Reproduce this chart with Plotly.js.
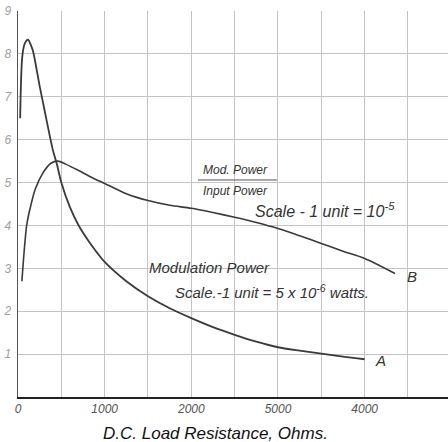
<!DOCTYPE html>
<html>
<head>
<meta charset="utf-8">
<script src="https://cdn.plot.ly/plotly-3.0.1.min.js"></script>
<style>html,body{margin:0;padding:0;background:#fff;}#chart{width:448px;height:442px;}</style>
</head>
<body>
<div id="chart"></div>
<script>
// Curve A: Modulation Power (1 unit = 5x10^-6 W)
const resistanceA = [25, 50, 80, 115, 150, 175, 250, 300, 350, 400, 450, 500, 600, 700, 800, 900, 1000, 1250, 1500, 1750, 2000, 2250, 2500, 2750, 3000, 3250, 3500, 3750, 4000];
const modPowerA   = [6.5, 7.95, 8.25, 8.33, 8.2, 8.05, 7.25, 6.75, 6.25, 5.78, 5.42, 5.0, 4.42, 4.0, 3.68, 3.4, 3.15, 2.7, 2.35, 2.07, 1.84, 1.63, 1.45, 1.29, 1.16, 1.08, 1.01, 0.94, 0.88];
// Curve B: Mod. Power / Input Power (1 unit = 10^-5)
const resistanceB = [45, 100, 140, 200, 290, 380, 460, 550, 700, 850, 1000, 1250, 1500, 1750, 2000, 2250, 2500, 2750, 3000, 3250, 3500, 3750, 4000, 4350];
const ratioB      = [2.7, 4.0, 4.4, 4.85, 5.23, 5.45, 5.5, 5.43, 5.28, 5.12, 4.98, 4.74, 4.58, 4.47, 4.40, 4.30, 4.19, 4.07, 3.93, 3.76, 3.58, 3.40, 3.23, 2.88];

const xTickVals = [0, 1000, 2000, 3000, 4000];
const xTickText = ['0', '1000', '2000', '5000', '4000'];
const yTickVals = [1, 2, 3, 4, 5, 6, 7, 8, 9];
const yTickText = ['1', '2', '3', '4', '5', '6', '7', '8', '9'];

const FONT = 'Liberation Sans, DejaVu Sans, sans-serif';
const ink = '#3a3a3a';

const traces = [
  {x: resistanceA, y: modPowerA, mode: 'lines', name: 'Modulation Power',
   line: {color: ink, width: 1.8, shape: 'spline', smoothing: 0.8}, hoverinfo: 'x+y'},
  {x: resistanceB, y: ratioB, mode: 'lines', name: 'Mod. Power / Input Power',
   line: {color: ink, width: 1.6, shape: 'spline', smoothing: 0.8}, hoverinfo: 'x+y'},
  // carrier for the labelled tick axis (no visible marks)
  {x: xTickVals, y: xTickVals.map(() => 0), xaxis: 'x2', yaxis: 'y', mode: 'markers',
   marker: {opacity: 0, size: 1}, hoverinfo: 'skip', showlegend: false}
];

const txt = (x, y, text, size, extra) => Object.assign({
  x: x, y: y, xref: 'x', yref: 'y', text: text, showarrow: false,
  font: {family: FONT, size: size, color: '#333', style: 'italic'}
}, extra || {});

const layout = {
  width: 448, height: 442,
  margin: {l: 18, r: 0, t: 11, b: 45, pad: 0},
  paper_bgcolor: '#ffffff', plot_bgcolor: '#ffffff',
  showlegend: false,
  xaxis: {
    range: [0, 4962], tickmode: 'linear', tick0: 0, dtick: 500,
    showticklabels: false,
    showgrid: true, gridcolor: '#c4c4c4', gridwidth: 1,
    showline: true, linecolor: '#222', linewidth: 2,
    zeroline: false, ticks: ''
  },
  xaxis2: {
    overlaying: 'x', anchor: 'y', side: 'bottom',
    range: [0, 4962], tickmode: 'array', tickvals: xTickVals, ticktext: xTickText,
    showgrid: false, showline: false, zeroline: false, ticks: '', ticklabelstandoff: 3,
    tickfont: {family: FONT, size: 12, color: '#555', style: 'italic'}
  },
  yaxis: {
    range: [0, 9], tickmode: 'array', tickvals: yTickVals, ticktext: yTickText,
    showgrid: true, gridcolor: '#c4c4c4', gridwidth: 1,
    showline: true, linecolor: '#555', linewidth: 1.5,
    zeroline: false, ticks: '', ticklabelstandoff: 3,
    tickfont: {family: FONT, size: 12, color: '#a0a0a0', style: 'italic'}
  },
  annotations: [
    txt(2515, 5.29, 'Mod. Power', 12),
    txt(2515, 4.80, 'Input Power', 12),
    txt(2711, 4.36, 'Scale - 1 unit = 10<sup>-5</sup>', 16, {xanchor: 'left'}),
    txt(1488, 3.03, 'Modulation Power', 15, {xanchor: 'left'}),
    txt(1788, 2.45, 'Scale.-1 unit = 5 x 10<sup>-6</sup> watts.', 15, {xanchor: 'left'}),
    txt(4096, 0.86, 'A', 15, {xanchor: 'left'}),
    txt(4465, 2.80, 'B', 15, {xanchor: 'left'}),
    {xref: 'paper', yref: 'paper', x: 0.46, y: -0.095, yanchor: 'middle',
     text: 'D.C. Load Resistance, Ohms.', showarrow: false,
     font: {family: FONT, size: 17, color: '#111', style: 'italic'}}
  ],
  shapes: [
    {type: 'line', xref: 'x', yref: 'y', x0: 2077, x1: 2988, y0: 5.06, y1: 5.06,
     line: {color: '#555', width: 1}}
  ]
};

Plotly.newPlot('chart', traces, layout, {displayModeBar: false, staticPlot: true});
</script>
</body>
</html>
